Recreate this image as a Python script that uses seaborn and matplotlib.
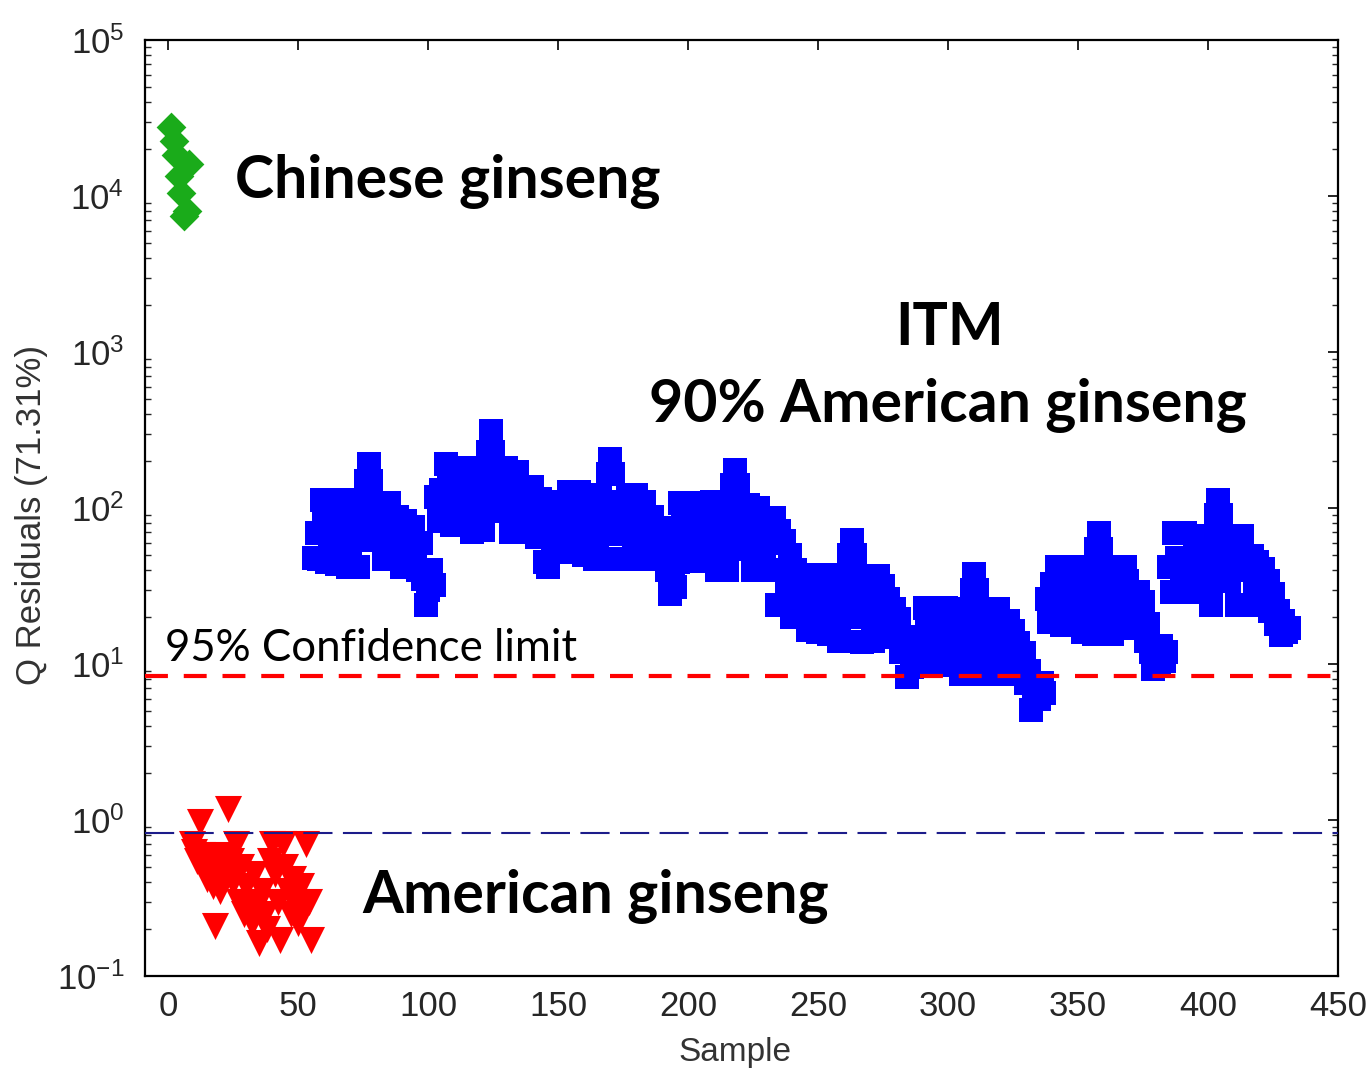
import matplotlib
matplotlib.use("Agg")
import matplotlib.pyplot as plt
import seaborn as sns
import pandas as pd
from matplotlib.ticker import LogLocator, NullFormatter, FixedLocator

# ---------------- data ----------------
chinese_sample = [1, 2, 3, 4, 5, 6, 7, 8]
chinese_q = [27800, 22600, 18200, 13500, 10500, 7400, 8070, 16100]

american_sample = list(range(9, 56))
american_q = [0.70, 0.62, 0.55, 0.97, 0.60, 0.50, 0.42, 0.55, 0.38, 0.21,
              0.48, 0.35, 0.60, 0.45, 1.18, 0.55, 0.40, 0.70, 0.30, 0.50,
              0.25, 0.38, 0.30, 0.22, 0.45, 0.28, 0.163, 0.35, 0.25, 0.20,
              0.55, 0.70, 0.45, 0.30, 0.17, 0.70, 0.50, 0.35, 0.25, 0.42,
              0.30, 0.22, 0.38, 0.27, 0.70, 0.30, 0.17]

itm_batch1 = [48, 69, 47, 113, 82, 45, 62, 113, 80, 44, 60, 110, 82, 42, 60, 113, 80, 42, 62, 113,
              150, 192, 150, 107, 80, 65, 104, 47, 80, 107, 62, 48, 88, 65, 42, 82, 60, 45, 75, 55,
              40, 60, 35, 24, 30, 40, 32]
itm_batch2 = [118, 83, 130, 100, 192, 135, 78, 105, 170, 130, 78, 105, 181, 130, 70, 100, 181, 130, 72, 100,
              230, 313, 230, 181, 130, 95, 104, 181, 130, 70, 100, 170, 120, 72, 137, 100, 70, 137, 95, 65,
              115, 75, 45, 42, 80, 55, 70]
itm_batch3 = [110, 52, 100, 70, 127, 90, 52, 70, 127, 88, 50, 68, 122, 88, 47, 65, 122, 88, 47, 165,
              207, 165, 47, 88, 68, 110, 47, 122, 85, 65, 122, 85, 47, 110, 70, 48, 88, 65, 47, 74,
              55, 65, 40, 28, 40, 31, 45]
itm_batch4 = [107, 78, 46, 63, 107, 78, 46, 63, 107, 78, 46, 60, 110, 78, 40, 55, 110, 78, 40, 55,
              140, 176, 140, 105, 75, 55, 105, 75, 40, 55, 100, 72, 42, 86, 60, 40, 86, 24, 71, 40,
              61, 30, 50, 20, 40, 25, 33]
itm_batch5 = [37, 27, 16.5, 21, 37, 27, 16, 21, 37, 27, 15.6, 21, 37, 27, 14, 20, 37, 27, 50, 62,
              50, 36.5, 27, 13.8, 20, 36.5, 27, 14, 20, 36.5, 27, 31.5, 14.9, 26, 20, 22.4, 15, 19.4, 12, 15,
              8.3, 12, 9.5, 14, 10, 13, 11]
itm_batch6 = [23, 16, 10, 12.5, 23, 16, 9.9, 12.5, 23, 16, 9.9, 12.4, 22.4, 16, 8.6, 12, 22.4, 16, 30, 37.6,
              30, 22.4, 16, 8.6, 12, 22.4, 16, 8.6, 22.4, 12, 18.8, 9, 18.8, 12, 16.3, 8.6, 13.6, 10, 11.8, 7.5,
              9, 5.1, 6.5, 7, 6, 7.5, 6.5]
itm_batch7 = [26, 18.5, 32.4, 23, 42, 30, 17.7, 23, 42, 30, 17.7, 23, 42, 30, 16, 22, 42, 30, 15.6, 55,
              69, 55, 42, 30, 22, 15.6, 30, 42, 17, 23, 42, 34, 17, 29, 23, 29, 17, 25, 14, 18,
              12, 9.3, 11, 10, 13, 10.5, 12]
itm_batch8 = [42, 28.9, 69, 48, 28.9, 36, 69, 48, 29, 36, 66, 48, 28.9, 36, 66, 48, 24, 34, 90, 113,
              90, 66, 48, 34, 66, 48, 24, 40, 66, 45, 49, 24, 49, 34, 45, 24, 40.5, 30, 34, 22,
              28, 18, 22, 15.3, 18.8, 16, 17]
itm_sample = list(range(56, 432))
itm_q = (itm_batch1 + itm_batch2 + itm_batch3 + itm_batch4 +
         itm_batch5 + itm_batch6 + itm_batch7 + itm_batch8)

confidence_limit_95 = 8.4
american_limit = 0.83

x_ticks = [0, 50, 100, 150, 200, 250, 300, 350, 400, 450]
y_ticks = [1e-1, 1e0, 1e1, 1e2, 1e3, 1e4, 1e5]

# ---------------- style ----------------
sns.set_theme(style="white")
plt.rcParams['font.family'] = ['Liberation Sans', 'DejaVu Sans']
plt.rcParams['axes.unicode_minus'] = False

W, H = 1367, 1075
fig = plt.figure(figsize=(W / 100, H / 100), dpi=100)
fig.patch.set_facecolor('white')
ax = fig.add_axes([145 / W, 1 - 976 / H, (1338 - 145) / W, (976 - 40) / H])
ax.set_facecolor('white')

df_itm = pd.DataFrame({'sample': itm_sample, 'q': itm_q})
df_am = pd.DataFrame({'sample': american_sample, 'q': american_q})
df_cn = pd.DataFrame({'sample': chinese_sample, 'q': chinese_q})

ax.set_yscale('log')
sns.scatterplot(data=df_itm, x='sample', y='q', ax=ax, marker='s', color='#0000ff',
                s=300, linewidth=0, legend=False, zorder=3)
sns.scatterplot(data=df_am, x='sample', y='q', ax=ax, marker='v', color='#ff0000',
                s=380, linewidth=0, legend=False, zorder=3)
sns.scatterplot(data=df_cn, x='sample', y='q', ax=ax, marker='D', color='#1aab1a',
                s=230, linewidth=0, legend=False, zorder=3)

ax.axhline(confidence_limit_95, color='#ff0000', lw=3.0, dashes=(5.5, 3.8), zorder=5)
ax.axhline(american_limit, color='#1c1c8a', lw=1.5, dashes=(14, 5), zorder=5)

ax.set_xlim(-9, 450)
ax.set_ylim(1e-1, 1e5)
ax.xaxis.set_major_locator(FixedLocator(x_ticks))
ax.yaxis.set_major_locator(FixedLocator(y_ticks))
ax.yaxis.set_minor_locator(LogLocator(base=10, subs=[2, 3, 4, 5, 6, 7, 8, 9], numticks=20))
ax.yaxis.set_minor_formatter(NullFormatter())

for sp in ax.spines.values():
    sp.set_color('black')
    sp.set_linewidth(1.6)

ax.tick_params(axis='both', which='major', direction='in', length=7, width=1.2,
               top=True, right=True, labelsize=25, colors='black')
ax.tick_params(axis='both', which='minor', direction='in', length=4, width=1.0,
               top=False, right=True, left=True)
ax.tick_params(axis='x', which='major', pad=10)
ax.tick_params(axis='y', which='major', pad=15)
for lbl in ax.get_xticklabels() + ax.get_yticklabels():
    lbl.set_color('#262626')

ax.set_xlabel('')
ax.set_ylabel('')
fig.text(735 / W, 1 - 1053 / H, 'Sample', ha='center', va='center',
         fontsize=24, color='#333333')
fig.text(32 / W, 1 - 515 / H, 'Q Residuals (71.31%)', ha='center', va='center',
         rotation=90, fontsize=25, color='#333333')

ann_font = ['Lato', 'Open Sans', 'DejaVu Sans']
ax.text(25.7, 9640, 'Chinese ginseng', family=ann_font, fontweight='bold',
        fontsize=42.5, ha='left', va='baseline', color='black', zorder=6)
ax.text(300.5, 1109, 'ITM', family=ann_font, fontweight='bold',
        fontsize=42.5, ha='center', va='baseline', color='black', zorder=6)
ax.text(299.8, 357, '90% American ginseng', family=ann_font, fontweight='bold',
        fontsize=42.5, ha='center', va='baseline', color='black', zorder=6)
ax.text(74.6, 0.253, 'American ginseng', family=ann_font, fontweight='bold',
        fontsize=42.5, ha='left', va='baseline', color='black', zorder=6)
ax.text(-1.2, 10.45, '95% Confidence limit', family=ann_font, fontweight='normal',
        fontsize=31.5, ha='left', va='baseline', color='black', zorder=6)

fig.savefig('out.png', dpi=100, facecolor='white')
